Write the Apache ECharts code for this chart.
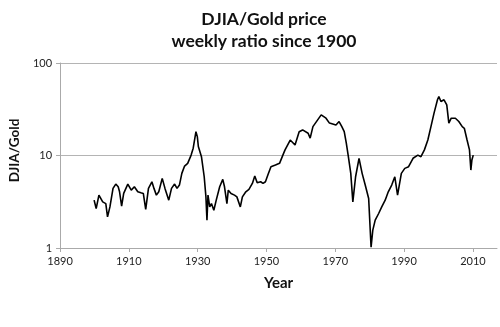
<!DOCTYPE html>
<html>
<head>
<meta charset="utf-8">
<script src="https://cdn.jsdelivr.net/npm/echarts@6/dist/echarts.min.js"></script>
<style>html,body{margin:0;padding:0;background:#fff}#c{width:500px;height:327px}</style>
</head>
<body>
<div id="c"></div>
<script>
var titleLines = ['DJIA/Gold price', 'weekly ratio since 1900'];
var xAxisName = 'Year';
var yAxisName = 'DJIA/Gold';
var xTickYears = [1890, 1910, 1930, 1950, 1970, 1990, 2010];
var yTickValues = [1, 10, 100];
var years = [
1899.9,1900.5,1901.3,1902.4,1903.3,1903.8,1904.5,1905.4,1906.2,1906.9,1907.3,1907.9,1908.5,1909.7,
1910.7,1911.6,1912.6,1913.5,1914.2,1914.9,1915.7,1916.7,1917.3,1918.0,1918.7,1919.7,1920.5,1921.6,
1922.4,1923.3,1924.0,1924.7,1925.4,1926.2,1927.1,1928.1,1928.7,1929.5,1929.9,1930.2,1930.7,1931.1,
1931.9,1932.4,1932.7,1933.0,1933.5,1934.0,1934.7,1935.4,1936.4,1937.3,1937.8,1938.5,1938.9,1939.7,
1940.7,1941.4,1942.4,1943.0,1944.0,1944.9,1945.9,1946.6,1947.3,1948.3,1949.0,1949.4,1949.7,1950.4,
1951.3,1952.6,1953.8,1955.0,1955.4,1956.9,1958.3,1959.5,1960.5,1962.1,1962.7,1963.5,1965.9,1966.4,
1967.3,1968.3,1968.7,1970.2,1971.1,1971.9,1972.6,1973.2,1973.8,1974.5,1975.1,1975.9,1976.9,1977.8,
1978.7,1979.7,1980.4,1980.9,1981.6,1982.6,1983.5,1984.5,1985.4,1986.4,1987.3,1988.1,1989.2,1990.2,
1991.3,1992.6,1994.0,1994.9,1995.9,1996.9,1997.8,1998.7,1999.7,2000.1,2000.7,2001.6,2002.4,2003.0,
2003.7,2004.9,2005.9,2006.9,2007.5,2008.3,2009.0,2009.4,2009.7,2010.1
];
var ratios = [
3.29,2.67,3.73,3.15,3.02,2.17,2.78,4.41,4.91,4.59,4.05,2.83,3.89,4.91,
4.22,4.59,4.05,3.95,3.89,2.61,4.41,5.2,4.41,3.73,4.05,5.66,4.41,3.29,
4.41,4.91,4.41,4.79,6.41,7.69,8.23,10.1,12.0,18.1,16.0,12.5,13.0,9.7,
5.89,3.57,2.0,3.73,2.78,3.02,2.56,3.29,4.59,5.52,4.59,3.02,4.22,3.89,
3.73,3.57,2.78,3.57,4.05,4.30,4.99,6.0,5.07,5.2,4.99,4.79,5.2,6.15,
7.56,7.88,8.23,10.6,11.5,14.7,13.0,18.1,18.9,17.4,15.4,20.5,27.5,27.5,
25.3,22.4,22.4,21.4,23.3,20.5,18.1,13.6,9.7,6.4,3.15,5.89,9.33,6.41,
4.79,3.43,1.02,1.56,2.0,2.36,2.78,3.29,4.05,4.79,5.89,3.73,6.41,7.26,
7.56,9.33,10.1,9.7,11.5,14.7,20.5,28.7,40.0,43.4,38.3,40.0,35.3,22.4,
25.3,25.3,23.3,20.5,19.7,14.7,11.5,6.96,8.93,10.1
];
var seriesData = years.map(function (y, i) { return [y, ratios[i]]; });

var chart = echarts.init(document.getElementById('c'), null, {renderer: 'canvas'});
var font = 'Lato';
chart.setOption({
  animation: false,
  backgroundColor: '#ffffff',
  title: {
    text: titleLines.join('\n'),
    left: 259,
    textAlign: 'center',
    top: 3,
    textStyle: {fontFamily: font, fontWeight: 'bold', fontSize: 17.5, lineHeight: 22.5, color: '#111'}
  },
  grid: {left: 53, right: 3, top: 63, bottom: 79},
  xAxis: {
    type: 'value',
    min: 1890,
    max: 2017,
    name: xAxisName,
    nameLocation: 'middle',
    nameGap: 28,
    nameTextStyle: {fontFamily: font, fontWeight: 'bold', fontSize: 15, color: '#111'},
    axisLine: {show: true, lineStyle: {color: '#aaaaaa', width: 1}},
    axisTick: {show: true, length: 4, customValues: xTickYears, lineStyle: {color: '#aaaaaa'}},
    axisLabel: {customValues: xTickYears, margin: 8, fontFamily: font, fontSize: 11, color: '#222',
      formatter: function (v) { return String(v); }},
    splitLine: {show: false}
  },
  yAxis: {
    type: 'log',
    logBase: 10,
    min: 1,
    max: 100,
    name: yAxisName,
    nameLocation: 'middle',
    nameGap: 35,
    nameTextStyle: {fontFamily: font, fontWeight: 'bold', fontSize: 13.5, color: '#111', padding: [0, 0, 0, 10]},
    axisLine: {show: true, lineStyle: {color: '#aaaaaa', width: 1}},
    axisTick: {show: true, length: 4, lineStyle: {color: '#aaaaaa'}},
    axisLabel: {margin: 8, fontFamily: font, fontSize: 11, color: '#222',
      formatter: function (v) { return String(v); }},
    splitLine: {show: true, lineStyle: {color: '#b4b4b4', width: 1}}
  },
  series: [{
    type: 'line',
    data: seriesData,
    showSymbol: false,
    symbol: 'none',
    lineStyle: {color: '#000', width: 1.6},
    silent: true
  }]
});
</script>
</body>
</html>
